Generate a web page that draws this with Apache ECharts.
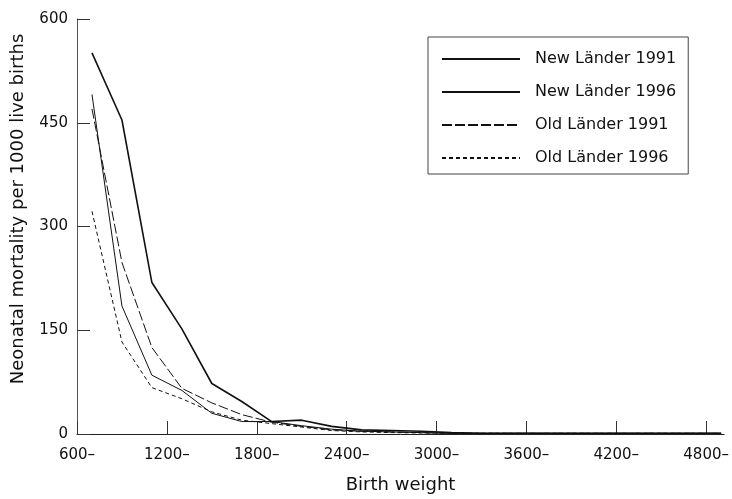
<!DOCTYPE html>
<html>
<head>
<meta charset="utf-8">
<script src="https://cdn.jsdelivr.net/npm/echarts@6/dist/echarts.min.js"></script>
<style>
  html, body { margin: 0; padding: 0; background: #fff; }
</style>
</head>
<body>
<div id="chart" style="width:732px;height:499px;"></div>
<script>
  // birth weight class midpoints (600-799 -> 700, ...)
  const weights = [700, 900, 1100, 1300, 1500, 1700, 1900, 2100, 2300, 2500, 2700,
    2900, 3100, 3300, 3500, 3700, 3900, 4100, 4300, 4500, 4700, 4900];
  const newLaender1991 = [551, 454, 219, 152, 73, 47, 18, 20, 11, 6, 5, 4, 2, 1, 1, 1, 1, 1, 1, 1, 1, 1];
  const newLaender1996 = [491, 185, 85, 63, 30, 18, 18, 12, 7, 4, 3, 2, 1, 1, 1, 1, 1, 1, 1, 1, 1, 1];
  const oldLaender1991 = [470, 248, 125, 66, 45, 28, 17, 11, 6, 4, 3, 2, 1, 1, 1, 1, 1, 1, 1, 1, 1, 1];
  const oldLaender1996 = [322, 133, 67, 51, 32, 20, 15, 10, 5, 3, 2, 1.5, 1, 1, 1, 1, 1, 1, 1, 1, 1, 1];
  const xTicks = [600, 1200, 1800, 2400, 3000, 3600, 4200, 4800];
  const yTicks = [0, 150, 300, 450, 600];

  const font = 'DejaVu Sans';
  const pair = arr => weights.map((w, i) => [w, arr[i]]);

  function line (name, arr, width, type) {
    return {
      name: name,
      type: 'line',
      data: pair(arr),
      symbol: 'none',
      silent: true,
      lineStyle: { color: '#111', width: width, type: type },
      itemStyle: { color: '#111' }
    };
  }

  const chart = echarts.init(document.getElementById('chart'));
  chart.setOption({
    animation: false,
    grid: { left: 77, top: 19, right: 7, bottom: 65 },
    legend: {
      orient: 'vertical',
      left: 428,
      top: 37,
      padding: [14, 12, 8, 13],
      itemWidth: 78,
      itemHeight: 16,
      itemGap: 17,
      borderColor: '#444',
      borderWidth: 1,
      itemStyle: { opacity: 0, borderWidth: 0 },
      textStyle: { fontFamily: font, fontSize: 16, color: '#111', padding: [0, 0, 0, 10] },
      data: ['New Länder 1991', 'New Länder 1996', 'Old Länder 1991', 'Old Länder 1996']
    },
    xAxis: {
      type: 'value',
      min: 600,
      max: 4920,
      interval: 600,
      name: 'Birth weight',
      nameLocation: 'middle',
      nameGap: 42,
      nameTextStyle: { fontFamily: font, fontSize: 18, color: '#111' },
      splitLine: { show: false },
      axisLine: { lineStyle: { color: '#222', width: 1 } },
      axisTick: { inside: true, length: 13, customValues: xTicks, lineStyle: { color: '#333' } },
      axisLabel: {
        customValues: xTicks,
        margin: 14,
        fontFamily: font,
        fontSize: 15,
        color: '#111',
        formatter: v => v + '–'
      }
    },
    yAxis: {
      type: 'value',
      min: 0,
      max: 600,
      interval: 150,
      name: 'Neonatal mortality per 1000 live births',
      nameLocation: 'middle',
      nameGap: 50,
      nameTextStyle: { fontFamily: font, fontSize: 18, color: '#111', padding: [0, 0, 0, 35] },
      splitLine: { show: false },
      axisLine: { show: true, lineStyle: { color: '#555', width: 1 } },
      axisTick: { show: true, inside: true, length: 13, lineStyle: { color: '#333' } },
      axisLabel: {
        customValues: yTicks,
        margin: 9,
        fontFamily: font,
        fontSize: 15,
        color: '#111'
      }
    },
    series: [
      line('New Länder 1991', newLaender1991, 1.6, 'solid'),
      line('New Länder 1996', newLaender1996, 1, 'solid'),
      line('Old Länder 1991', oldLaender1991, 1, [10, 3]),
      line('Old Länder 1996', oldLaender1996, 1, [4, 3])
    ]
  });
</script>
</body>
</html>
